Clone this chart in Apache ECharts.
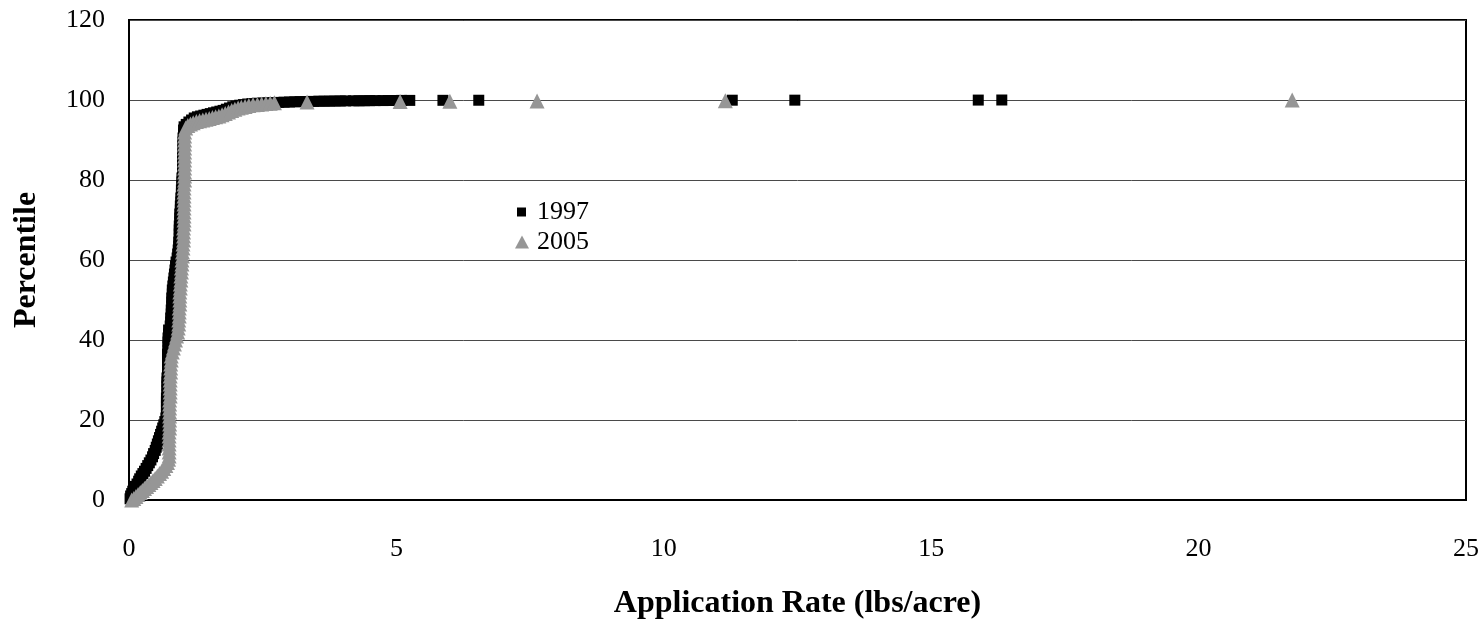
<!DOCTYPE html>
<html>
<head>
<meta charset="utf-8">
<script src="https://cdn.jsdelivr.net/npm/echarts@6/dist/echarts.min.js"></script>
<style>
html,body{margin:0;padding:0;background:#fff;}
#chart{width:1482px;height:626px;}
</style>
</head>
<body>
<div id="chart"></div>
<script>
// Data: [application rate (lbs/acre), percentile]
const seriesNames = ['1997', '2005'];
const xTicks = [0, 5, 10, 15, 20, 25];
const yTicks = [0, 20, 40, 60, 80, 100, 120];

const data1997 = [
  [0.02,0.3],[0.03,1],[0.05,1.6],[0.07,2.2],[0.1,2.8],[0.12,3.4],[0.15,4],[0.18,4.7],[0.2,5.3],
  [0.23,6],[0.26,6.6],[0.29,7.2],[0.32,7.9],[0.35,8.6],[0.38,9.3],[0.41,10],[0.44,10.8],[0.46,11.6],
  [0.49,12.4],[0.51,13.2],[0.53,14],[0.55,14.8],[0.57,15.6],[0.59,16.4],[0.61,17.2],[0.63,18],
  [0.65,18.8],[0.67,19.6],[0.69,20.5],[0.7,21.5],
  [0.70,22.5],[0.70,23.5],[0.70,24.5],[0.70,25.5],[0.71,26.5],[0.71,27.5],[0.71,28.5],[0.71,29.5],
  [0.71,30.5],[0.72,31.5],[0.72,32.5],[0.72,33.5],[0.72,34.5],[0.72,35.5],[0.72,36.5],[0.73,37.5],
  [0.73,38.5],[0.73,39.5],[0.73,40.5],[0.74,41.5],[0.74,42.5],
  [0.77,43.5],[0.78,44.5],[0.78,45.5],[0.79,46.5],[0.79,47.5],[0.8,48.5],[0.8,49.5],[0.8,50.5],
  [0.81,51.5],[0.81,52.5],[0.82,53.5],[0.83,54.5],[0.84,55.5],[0.85,56.5],[0.86,57.5],[0.87,58.5],
  [0.88,59.5],[0.9,60.5],[0.91,61.5],[0.92,62.5],[0.93,63.5],[0.93,64.5],[0.94,65.5],[0.94,66.5],
  [0.94,67.5],[0.94,68.5],[0.95,69.5],[0.95,70.5],[0.95,71.5],[0.96,72.5],[0.96,73.5],[0.97,74.5],
  [0.97,75.5],[0.98,76.5],[0.98,77.5],[0.99,78.5],[0.99,79.5],[0.99,80.5],[1.0,81.5],[1.0,82.5],
  [1.0,83.5],[1.0,84.5],[1.0,85.5],[1.01,86.5],[1.01,87.5],[1.01,88.5],[1.01,89.5],[1.01,90.5],
  [1.02,91.5],[1.02,92.5],[1.03,93.3],
  [1.07,93.9],[1.12,94.5],[1.17,95],[1.22,95.5],[1.28,95.8],[1.34,96],[1.4,96.2],[1.46,96.4],
  [1.52,96.6],[1.58,96.8],[1.64,97],[1.7,97.2],[1.76,97.4],[1.82,97.7],[1.88,98],[1.94,98.3],
  [2.0,98.5],[2.07,98.7],[2.14,98.85],[2.22,99],[2.3,99.1],[2.4,99.2],[2.5,99.25],[2.6,99.3],
  [2.7,99.35],[2.8,99.4],[2.9,99.45],[3.0,99.5],[3.1,99.55],[3.2,99.6],[3.3,99.6],[3.45,99.65],
  [3.55,99.7],[3.65,99.7],[3.75,99.72],[3.85,99.74],[3.95,99.76],[4.05,99.78],[4.2,99.8],[4.3,99.8],
  [4.4,99.82],[4.5,99.84],[4.6,99.85],[4.75,99.86],[4.85,99.87],[5.0,99.88],[5.1,99.9],[5.25,99.9],
  [5.87,99.92],[6.54,99.94],[11.28,99.95],[12.45,99.96],[15.88,99.98],[16.32,100]
];

const data2005 = [
  [0.05,0],[0.09,0.4],[0.13,0.9],[0.17,1.4],[0.21,1.9],[0.25,2.4],[0.29,2.9],[0.33,3.4],[0.37,3.9],
  [0.41,4.4],[0.45,4.9],[0.49,5.4],[0.53,6],[0.57,6.6],[0.61,7.2],[0.65,7.9],[0.69,8.6],[0.72,9.4],
  [0.74,10.2],
  [0.75,11],[0.75,12],[0.75,13],[0.75,14],[0.75,15],[0.75,16],[0.75,17],[0.76,18],[0.76,19],
  [0.76,20],[0.76,21],[0.76,22],[0.76,23],[0.76,24],[0.76,25],[0.77,26],[0.77,27],[0.77,28],
  [0.77,29],[0.77,30],[0.77,31],[0.78,32],[0.78,33],[0.78,34],[0.79,35],[0.79,36],
  [0.81,37],[0.83,38],[0.85,39],[0.87,40],[0.89,41],[0.91,42],[0.92,43],[0.93,44],[0.93,45],
  [0.94,46],[0.94,47],[0.94,48],[0.95,49],[0.95,50],[0.95,51],[0.95,52],[0.96,53],[0.96,54],
  [0.97,55],[0.97,56],[0.98,57],[0.98,58],[0.99,59],[0.99,60],[1.0,61],[1.0,62],[1.01,63],
  [1.01,64],[1.02,65],[1.02,66],[1.02,67],[1.02,68],[1.03,69],[1.03,70],[1.03,71],[1.03,72],
  [1.03,73],[1.03,74],[1.03,75],[1.03,76],[1.03,77],[1.03,78],[1.03,79],[1.04,80],[1.04,81],
  [1.04,82],[1.04,83],[1.04,84],[1.04,85],[1.04,86],[1.04,87],[1.04,88],[1.04,89],[1.04,90],
  [1.04,91],[1.04,92],
  [1.06,93],[1.1,93.6],[1.15,94],[1.2,94.3],[1.26,94.6],[1.32,94.8],[1.38,95],[1.44,95.2],[1.5,95.4],
  [1.56,95.6],[1.62,95.8],[1.68,96],[1.74,96.3],[1.8,96.6],[1.86,97],[1.92,97.4],[1.98,97.7],
  [2.04,98],[2.1,98.2],[2.17,98.4],[2.24,98.6],[2.32,98.8],[2.4,98.9],[2.48,99],[2.56,99.1],
  [2.64,99.2],[2.72,99.3],
  [3.33,99.5],[5.07,99.6],[6.0,99.7],[7.63,99.75],[11.15,99.8],[21.75,100]
];

const font = '"Liberation Serif", "Times New Roman", serif';
const chart = echarts.init(document.getElementById('chart'), null, {renderer: 'canvas'});
chart.setOption({
  animation: false,
  backgroundColor: '#ffffff',
  grid: {
    left: 129, right: 16, top: 20, bottom: 126,
    show: true, borderColor: '#000', borderWidth: 2, backgroundColor: 'transparent'
  },
  legend: [
    {
      orient: 'vertical', left: 512, top: 194,
      itemWidth: 9, itemHeight: 9,
      textStyle: {fontFamily: font, fontSize: 26, lineHeight: 26, color: '#000', padding: [0, 0, 0, 6]},
      data: [{name: seriesNames[0], icon: 'rect'}]
    },
    {
      orient: 'vertical', left: 510, top: 224,
      itemWidth: 14, itemHeight: 13,
      textStyle: {fontFamily: font, fontSize: 26, lineHeight: 26, color: '#000', padding: [0, 0, 0, 3]},
      data: [{name: seriesNames[1], icon: 'triangle'}]
    }
  ],
  xAxis: {
    type: 'value', min: xTicks[0], max: xTicks[xTicks.length - 1], interval: 5,
    name: 'Application Rate (lbs/acre)', nameLocation: 'middle', nameGap: 88,
    nameTextStyle: {fontFamily: font, fontSize: 32, fontWeight: 'bold', color: '#000'},
    axisLine: {show: true, lineStyle: {color: '#000', width: 2}},
    axisTick: {show: false},
    axisLabel: {fontFamily: font, fontSize: 26, color: '#000', margin: 36},
    splitLine: {show: false}
  },
  yAxis: {
    type: 'value', min: yTicks[0], max: yTicks[yTicks.length - 1], interval: 20,
    name: 'Percentile', nameLocation: 'middle', nameGap: 86,
    nameTextStyle: {fontFamily: font, fontSize: 32, fontWeight: 'bold', color: '#000'},
    axisLine: {show: true, lineStyle: {color: '#000', width: 2}},
    axisTick: {show: false},
    axisLabel: {fontFamily: font, fontSize: 26, color: '#000', margin: 24},
    splitLine: {show: true, lineStyle: {color: '#4a4a4a', width: 1}}
  },
  series: [
    {
      name: seriesNames[0], type: 'scatter', data: data1997,
      symbol: 'rect', symbolSize: 11,
      itemStyle: {color: '#000000', opacity: 1}
    },
    {
      name: seriesNames[1], type: 'scatter', data: data2005,
      symbol: 'triangle', symbolSize: 15,
      itemStyle: {color: '#969696', opacity: 1}
    }
  ]
});
</script>
</body>
</html>
